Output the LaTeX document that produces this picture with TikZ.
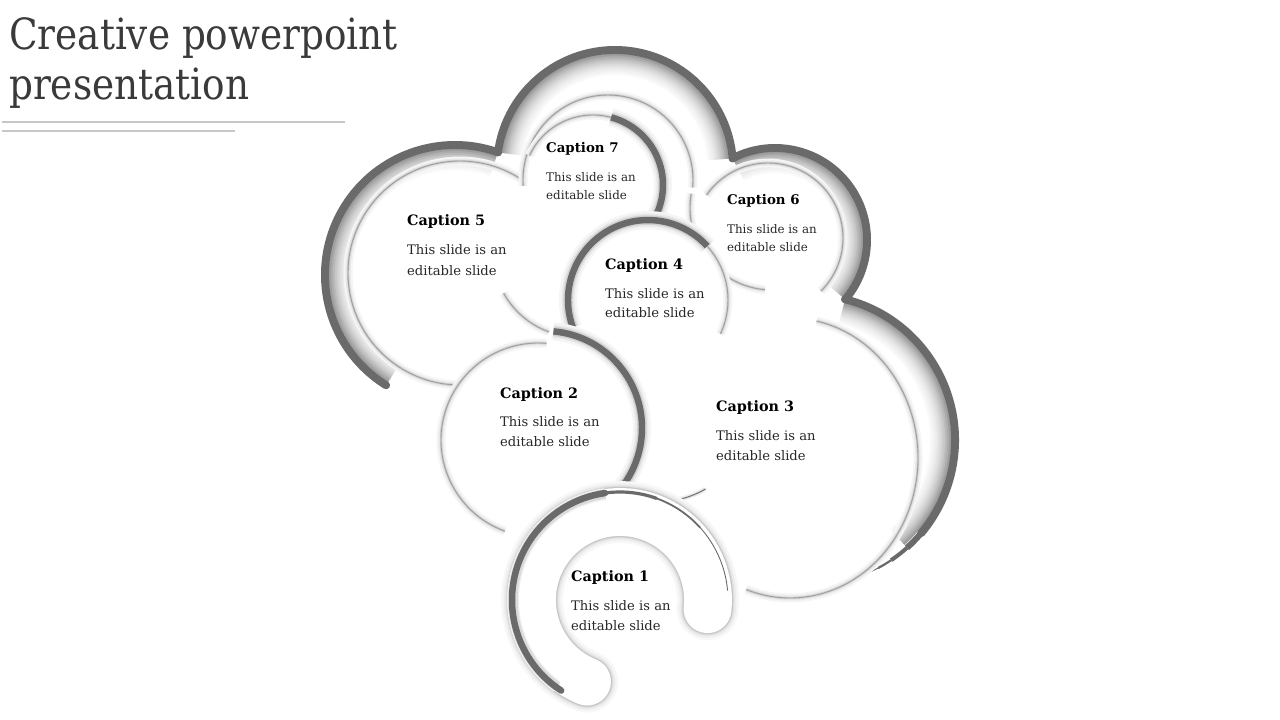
\documentclass[tikz,border=0pt]{standalone}
\usepackage{fontspec}
\setmainfont{DejaVu Serif}
\definecolor{ringgray}{RGB}{106,106,106}
\definecolor{titlegray}{RGB}{58,58,58}
\definecolor{bodygray}{RGB}{40,40,40}
% gradient inside an outer cloud arc: cx cy R a1 a2
\newcommand\cloudgrad[5]{%
  \foreach \gk/\gv in {11/2,10/4,9/6,8/8,7/11,6/14,5/18,4/22,3/27,2/32,1/38}{%
    \draw[line width=2.4, black!\gv] (#1,#2) ++(#4:{#3-3-1.9*\gk}) arc[start angle=#4, end angle=#5, radius={#3-3-1.9*\gk}];}}
% dark outer cloud arc: cx cy R a1 a2
\newcommand\clouddark[5]{%
  \draw[line width=8, ringgray, line cap=round] (#1,#2) ++(#4:#3) arc[start angle=#4, end angle=#5, radius=#3];}
% soft light edge: cx cy r a1 a2
\newcommand\softarc[5]{%
  \foreach \lw/\gv in {9/4,5/9,2.4/18,0.9/38}{%
    \draw[line width=\lw, black!\gv] (#1,#2) ++(#4:#3) arc[start angle=#4, end angle=#5, radius=#3];}}
% soft light elliptic edge: cx cy rx ry a1 a2
\newcommand\softell[6]{%
  \foreach \lw/\gv in {9/4,5/9,2.4/18,0.9/38}{%
    \draw[line width=\lw, black!\gv] (#1,#2) ++(#5:#3 and #4) arc[start angle=#5, end angle=#6, x radius=#3, y radius=#4];}}
% dark caption arc: cx cy r a1 a2
\newcommand\darkcap[5]{%
  \foreach \lw/\gv in {18/4,13/9,9.5/18}{%
    \draw[line width=\lw, black!\gv] (#1,#2) ++(#4:#3) arc[start angle=#4, end angle=#5, radius=#3];}
  \draw[line width=6.5, ringgray] (#1,#2) ++(#4:#3) arc[start angle=#4, end angle=#5, radius=#3];}
\begin{document}
\begin{tikzpicture}[x=1bp,y=-1bp,
  titletxt/.style={inner sep=0pt, anchor=base west, text=titlegray, font=\fontsize{37.5}{44}\selectfont},
  captxt/.style={inner sep=0pt, anchor=base west, text=black, font=\fontsize{14.4}{16}\selectfont\bfseries},
  bodytxt/.style={inner sep=0pt, anchor=base west, text=bodygray, font=\fontsize{13.2}{15}\selectfont},
  capsmall/.style={captxt, font=\fontsize{13.4}{15}\selectfont\bfseries},
  bodysmall/.style={bodytxt, font=\fontsize{11.9}{14}\selectfont},
  ruleline/.style={line width=3, black!22}]
\useasboundingbox[fill=white] (0,0) rectangle (1280,720);

% title
\node[titletxt] (t1) at (9,50) {\scalebox{1}[1.15]{Creative powerpoint}};
\node[titletxt] (t2) at (9,100) {\scalebox{1}[1.15]{presentation}};
\coordinate (u1a) at (2,122); \coordinate (u1b) at (345,122);
\coordinate (u2a) at (2,131); \coordinate (u2b) at (235,131);
\draw[ruleline] (u1a) -- (u1b);
\draw[ruleline] (u2a) -- (u2b);

% outer cloud: gradients first, dark strokes on top
\cloudgrad{455}{275}{130}{122}{289.3}
\cloudgrad{615}{168}{118}{187.6}{355.3}
\cloudgrad{775}{240}{92}{242.5}{400.2}
\cloudgrad{810}{440}{145}{284}{408}
\clouddark{455}{275}{130}{122}{289.3}
\clouddark{615}{168}{118}{187.6}{355.3}
\clouddark{775}{240}{92}{242.5}{400.2}
\clouddark{810}{440}{145}{284}{400}
\draw[line width=6, ringgray] (810,440) ++(400:145) arc[start angle=400, end angle=408, radius=145];
\draw[line width=4, ringgray] (810,440) ++(408:145) arc[start angle=408, end angle=416, radius=145];
\draw[line width=2.2, ringgray] (810,440) ++(416:145) arc[start angle=416, end angle=422, radius=145];
\draw[line width=1, ringgray] (810,440) ++(422:145) arc[start angle=422, end angle=429, radius=145];

% inner edges of the cloud band
\softarc{460}{273}{112}{81}{304}
\softarc{608}{180}{85}{176}{365}
\softarc{768}{238}{75}{215}{405}
\softell{790}{458}{128}{140}{282}{470}
\softarc{578}{252}{85}{110}{151}
\softarc{772}{208}{82}{95}{190}

% caption 7 circle
\softarc{593}{185}{70}{205}{285}
\darkcap{593}{185}{70}{285}{400}

% caption 4 circle
\fill[white] (648,300) circle[radius=80];
\darkcap{648}{300}{80}{160}{318}
\softarc{648}{300}{80}{318}{385}

% caption 2 circle
\fill[white] (538,440) circle[radius=97];
\softarc{538}{440}{97}{110}{250}
\softarc{538}{440}{97}{250}{275}
\darkcap{545}{428}{97}{275}{410}

% thin arc below caption 3
\foreach \lw/\gv in {5/5,2.5/12}{\draw[line width=\lw, black!\gv] (657,405) ++(60:97) arc[start angle=60, end angle=120, radius=97];}
\draw[line width=0.9, ringgray] (657,405) ++(60:97) arc[start angle=60, end angle=120, radius=97];

% caption 1 spiral band
\foreach \lw/\gv in {62/3,57/7,53/13,50.5/22}{\draw[line width=\lw, black!\gv, line cap=round] (620,600) ++(112:88) arc[start angle=112, end angle=366, radius=88];}
\draw[line width=48, white, line cap=round] (620,600) ++(112:88) arc[start angle=112, end angle=366, radius=88];
\foreach \lw/\gv in {12/6,9.5/14}{\draw[line width=\lw, black!\gv] (620,600) ++(126:107) arc[start angle=126, end angle=262, radius=107];}
\draw[line width=6.5, ringgray, line cap=round] (620,600) ++(123:108) arc[start angle=123, end angle=262, radius=108];
\draw[line width=3.2, ringgray] (620,600) ++(262:108) arc[start angle=262, end angle=290, radius=108];
\draw[line width=1.8, ringgray] (620,600) ++(290:108) arc[start angle=290, end angle=318, radius=108];
\draw[line width=0.9, ringgray] (620,600) ++(318:108) arc[start angle=318, end angle=355, radius=108];

% texts
\node[capsmall] (c7) at (546,153) {Caption 7};
\node[bodysmall] (c7a) at (546,182) {This slide is an};
\node[bodysmall] (c7b) at (546,200) {editable slide};
\node[captxt] (c5) at (407,226) {Caption 5};
\node[bodytxt] (c5a) at (407,255) {This slide is an};
\node[bodytxt] (c5b) at (407,275) {editable slide};
\node[capsmall] (c6) at (727,205) {Caption 6};
\node[bodysmall] (c6a) at (727,234) {This slide is an};
\node[bodysmall] (c6b) at (727,252) {editable slide};
\node[captxt] (c4) at (605,269) {Caption 4};
\node[bodytxt] (c4a) at (605,298) {This slide is an};
\node[bodytxt] (c4b) at (605,317) {editable slide};
\node[captxt] (c2) at (500,398) {Caption 2};
\node[bodytxt] (c2a) at (500,426) {This slide is an};
\node[bodytxt] (c2b) at (500,446) {editable slide};
\node[captxt] (c3) at (716,411) {Caption 3};
\node[bodytxt] (c3a) at (716,440) {This slide is an};
\node[bodytxt] (c3b) at (716,460) {editable slide};
\node[captxt] (c1) at (571,581) {Caption 1};
\node[bodytxt] (c1a) at (571,610) {This slide is an};
\node[bodytxt] (c1b) at (571,630) {editable slide};
\end{tikzpicture}
\end{document}
